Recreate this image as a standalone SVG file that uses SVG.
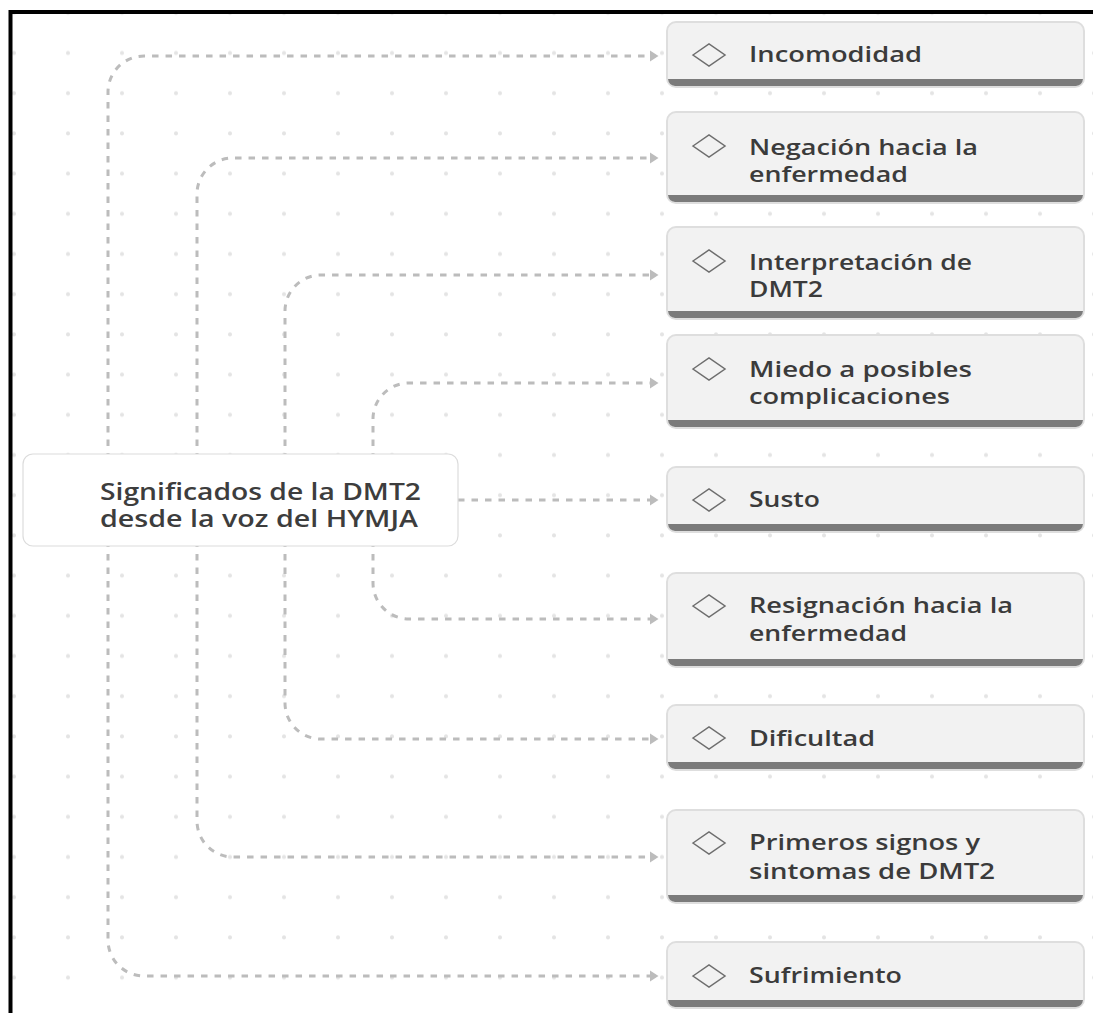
<svg xmlns="http://www.w3.org/2000/svg" width="1093" height="1013" viewBox="0 0 1093 1013">
<defs>
<pattern id="dots" x="-13" y="33" width="54" height="40.2" patternUnits="userSpaceOnUse">
<circle cx="27" cy="20" r="2" fill="#e4e4e4"/>
</pattern>
<marker id="arr" markerUnits="userSpaceOnUse" markerWidth="10" markerHeight="14" refX="0" refY="7" orient="auto">
<path d="M0,1.5 L8.5,7 L0,12.5 Z" fill="#bcbcbc"/>
</marker>
<style>
.con{fill:none;stroke:#bcbcbc;stroke-width:3;stroke-dasharray:6.5 7;marker-end:url(#arr)}
.box{fill:#f2f2f2;stroke:#dedede;stroke-width:2}
.bar{fill:#7b7b7b}
.dia{fill:none;stroke:#6e6e6e;stroke-width:1.5}
.lt{font-family:"Open Sans","Liberation Sans",sans-serif;font-weight:600;font-size:22px;fill:#3b3b3b}
.mt{font-family:"Open Sans","Liberation Sans",sans-serif;font-weight:600;font-size:23px;fill:#3d3d3d}
</style>
</defs>
<rect width="1093" height="1013" fill="#fff"/>
<rect width="1093" height="1013" fill="url(#dots)"/>
<path d="M10.5,1013 V12 H1093" fill="none" stroke="#000" stroke-width="4"/>

<g id="connectors">
<path class="con" d="M108,500 V92 A36,36 0 0 1 144,56 H650"/>
<path class="con" d="M197,500 V195 A36,36 0 0 1 233,158 H650"/>
<path class="con" d="M285,500 V311 A36,36 0 0 1 321,275 H650"/>
<path class="con" d="M373,500 V419 A36,36 0 0 1 409,383 H650"/>
<path class="con" d="M458,500 H650"/>
<path class="con" d="M373,500 V583 A36,36 0 0 0 409,619 H650"/>
<path class="con" d="M285,500 V703 A36,36 0 0 0 321,739 H650"/>
<path class="con" d="M197,500 V821 A36,36 0 0 0 233,857 H650"/>
<path class="con" d="M108,500 V940 A36,36 0 0 0 144,976 H650"/>
</g>

<g id="main">
<rect x="23" y="454" width="435" height="92" rx="10" fill="#fff" stroke="#dcdcdc" stroke-width="1.2"/>
<text class="mt" x="100" y="500" textLength="321" lengthAdjust="spacingAndGlyphs">Significados de la DMT2</text>
<text class="mt" x="100" y="527" textLength="318" lengthAdjust="spacingAndGlyphs">desde la voz del HYMJA</text>
</g>

<g id="n1">
<rect class="box" x="667" y="22" width="417" height="65" rx="9"/>
<path class="bar" d="M668,79 H1083 A8,8 0 0 1 1076,86 H675 A8,8 0 0 1 668,79 Z"/>
<path class="dia" d="M693,55 L709,44 L725,55 L709,66 Z"/>
<text class="lt" x="749" y="62" textLength="173" lengthAdjust="spacingAndGlyphs">Incomodidad</text>
</g>

<g id="n2">
<rect class="box" x="667" y="112" width="417" height="91" rx="9"/>
<path class="bar" d="M668,195 H1083 A8,8 0 0 1 1076,202 H675 A8,8 0 0 1 668,195 Z"/>
<path class="dia" d="M693,146 L709,135 L725,146 L709,157 Z"/>
<text class="lt" x="749" y="155" textLength="229" lengthAdjust="spacingAndGlyphs">Negación hacia la</text>
<text class="lt" x="749" y="182" textLength="159" lengthAdjust="spacingAndGlyphs">enfermedad</text>
</g>

<g id="n3">
<rect class="box" x="667" y="227" width="417" height="92" rx="9"/>
<path class="bar" d="M668,311 H1083 A8,8 0 0 1 1076,318 H675 A8,8 0 0 1 668,311 Z"/>
<path class="dia" d="M693,261 L709,250 L725,261 L709,272 Z"/>
<text class="lt" x="749" y="270" textLength="223" lengthAdjust="spacingAndGlyphs">Interpretación de</text>
<text class="lt" x="749" y="297" textLength="74" lengthAdjust="spacingAndGlyphs">DMT2</text>
</g>

<g id="n4">
<rect class="box" x="667" y="335" width="417" height="93" rx="9"/>
<path class="bar" d="M668,420 H1083 A8,8 0 0 1 1076,427 H675 A8,8 0 0 1 668,420 Z"/>
<path class="dia" d="M693,369 L709,358 L725,369 L709,380 Z"/>
<text class="lt" x="749" y="377" textLength="223" lengthAdjust="spacingAndGlyphs">Miedo a posibles</text>
<text class="lt" x="749" y="404" textLength="201" lengthAdjust="spacingAndGlyphs">complicaciones</text>
</g>

<g id="n5">
<rect class="box" x="667" y="467" width="417" height="65" rx="9"/>
<path class="bar" d="M668,524 H1083 A8,8 0 0 1 1076,531 H675 A8,8 0 0 1 668,524 Z"/>
<path class="dia" d="M693,500 L709,489 L725,500 L709,511 Z"/>
<text class="lt" x="749" y="507" textLength="71" lengthAdjust="spacingAndGlyphs">Susto</text>
</g>

<g id="n6">
<rect class="box" x="667" y="573" width="417" height="94" rx="9"/>
<path class="bar" d="M668,659 H1083 A8,8 0 0 1 1076,666 H675 A8,8 0 0 1 668,659 Z"/>
<path class="dia" d="M693,606 L709,595 L725,606 L709,617 Z"/>
<text class="lt" x="749" y="613" textLength="264" lengthAdjust="spacingAndGlyphs">Resignación hacia la</text>
<text class="lt" x="749" y="641" textLength="158" lengthAdjust="spacingAndGlyphs">enfermedad</text>
</g>

<g id="n7">
<rect class="box" x="667" y="705" width="417" height="65" rx="9"/>
<path class="bar" d="M668,762 H1083 A8,8 0 0 1 1076,769 H675 A8,8 0 0 1 668,762 Z"/>
<path class="dia" d="M693,738 L709,727 L725,738 L709,749 Z"/>
<text class="lt" x="749" y="746" textLength="126" lengthAdjust="spacingAndGlyphs">Dificultad</text>
</g>

<g id="n8">
<rect class="box" x="667" y="810" width="417" height="93" rx="9"/>
<path class="bar" d="M668,895 H1083 A8,8 0 0 1 1076,902 H675 A8,8 0 0 1 668,895 Z"/>
<path class="dia" d="M693,843 L709,832 L725,843 L709,854 Z"/>
<text class="lt" x="749" y="850" textLength="231" lengthAdjust="spacingAndGlyphs">Primeros signos y</text>
<text class="lt" x="749" y="879" textLength="246" lengthAdjust="spacingAndGlyphs">sintomas de DMT2</text>
</g>

<g id="n9">
<rect class="box" x="667" y="942" width="417" height="66" rx="9"/>
<path class="bar" d="M668,1000 H1083 A8,8 0 0 1 1076,1007 H675 A8,8 0 0 1 668,1000 Z"/>
<path class="dia" d="M693,976 L709,965 L725,976 L709,987 Z"/>
<text class="lt" x="749" y="983" textLength="153" lengthAdjust="spacingAndGlyphs">Sufrimiento</text>
</g>
</svg>
